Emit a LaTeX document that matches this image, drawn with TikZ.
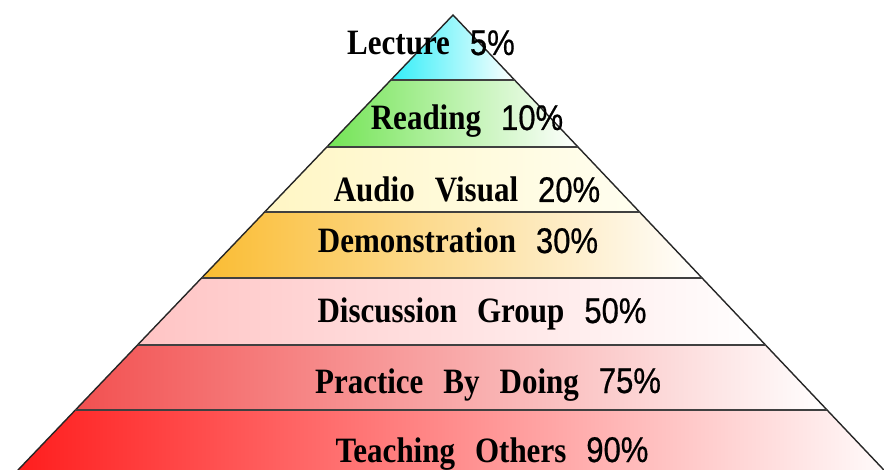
\documentclass[tikz,border=0pt]{standalone}
\usepackage{fontspec}
\setmainfont{Liberation Serif}
\newfontfamily\pctfont[FakeBold=0.6]{Liberation Sans}
\newcommand{\gap}{\hspace{20pt}}
\newcommand{\pc}[1]{{\pctfont\mdseries #1}}
\newcommand{\tall}[1]{\scalebox{1}[1.15]{#1}}
\definecolor{cyanL}{RGB}{50,238,248}
\definecolor{greenL}{RGB}{115,228,85}
\definecolor{yelL}{RGB}{255,246,196}
\definecolor{yelR}{RGB}{255,254,240}
\definecolor{orL}{RGB}{250,188,50}
\definecolor{pinkL}{RGB}{255,196,196}
\definecolor{redM}{RGB}{242,80,80}
\definecolor{redL}{RGB}{255,25,25}
\begin{document}
\begin{tikzpicture}[x=1pt,y=-1pt,
  lbl/.style={anchor=base, inner sep=0pt, font=\fontsize{31}{36}\selectfont\bfseries},
  edge/.style={line width=1.4pt, black!85},
  sep/.style={line width=1.6pt, black!75}]
\useasboundingbox (0,0) rectangle (884,470);
\clip (0,0) rectangle (884,470);
\foreach \n/\y in {a/15,b/80,c/147,d/212,e/278,f/345,g/410,h/490}{
  \coordinate (L\n) at ({453-0.956*(\y-15)},\y);
  \coordinate (R\n) at ({453+0.947*(\y-15)},\y);
}
% fills
\shade[left color=cyanL, right color=white] (La) -- (Ra) -- (Rb) -- (Lb) -- cycle;
\shade[left color=greenL, right color=white] (Lb) -- (Rb) -- (Rc) -- (Lc) -- cycle;
\shade[left color=yelL, right color=yelR] (Lc) -- (Rc) -- (Rd) -- (Ld) -- cycle;
\shade[left color=orL, right color=white] (Ld) -- (Rd) -- (Re) -- (Le) -- cycle;
\shade[left color=pinkL, right color=white] (Le) -- (Re) -- (Rf) -- (Lf) -- cycle;
\shade[left color=redM, right color=white] (Lf) -- (Rf) -- (Rg) -- (Lg) -- cycle;
\shade[left color=redL, right color=white] (Lg) -- (Rg) -- (Rh) -- (Lh) -- cycle;
% outline
\draw[edge] (Lh) -- (La) -- (Rh);
\foreach \n in {b,c,d,e,f,g}{ \draw[sep] (L\n) -- (R\n); }
% labels
\node[lbl] (t1) at (431,55) {\tall{Lecture\gap\pc{5\%}}};
\node[lbl] (t2) at (467,130) {\tall{Reading\gap\pc{10\%}}};
\node[lbl] (t3) at (467,202) {\tall{Audio\gap Visual\gap\pc{20\%}}};
\node[lbl] (t4) at (458,253) {\tall{Demonstration\gap\pc{30\%}}};
\node[lbl] (t5) at (482,323) {\tall{Discussion\gap Group\gap\pc{50\%}}};
\node[lbl] (t6) at (488,393) {\tall{Practice\gap By\gap Doing\gap\pc{75\%}}};
\node[lbl] (t7) at (492,462) {\tall{Teaching\gap Others\gap\pc{90\%}}};
\end{tikzpicture}
\end{document}
